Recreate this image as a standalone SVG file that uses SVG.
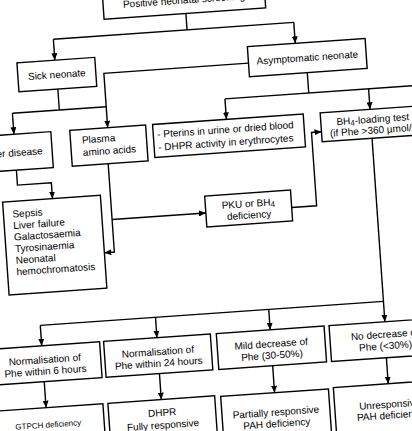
<svg xmlns="http://www.w3.org/2000/svg" width="412" height="431" viewBox="0 0 412 431">
<defs>
<marker id="ah" markerWidth="7" markerHeight="6" refX="7" refY="3" orient="auto" markerUnits="userSpaceOnUse">
<path d="M0,0 L7,3 L0,6 Z" fill="#000"/>
</marker>
<style>
.b{fill:#fff;stroke:#000;stroke-width:1.4}
.c{fill:none;stroke:#000;stroke-width:1.4}
.a{marker-end:url(#ah)}
text{font-family:"Liberation Sans",Arial,sans-serif;font-size:10px;fill:#000}
.m{text-anchor:middle}
.s{font-size:8px}
</style>
</defs>
<rect width="412" height="431" fill="#fff"/>
<g transform="rotate(-4 206 215)">
<g id="connectors">
<path class="c" d="M200,12.5 V29 M66,29 H307"/>
<path class="c a" d="M66,29 V50"/>
<path class="c a" d="M307,29 V50"/>
<path class="c" d="M67,79 V100 M20,100 H114"/>
<path class="c a" d="M20,100 V121"/>
<path class="c a" d="M259,66.5 H114 V121"/>
<path class="c" d="M317,80 V100.5 M233,100.5 H440"/>
<path class="c a" d="M233,100.5 V121"/>
<path class="c a" d="M377,100.5 V121"/>
<path class="c a" d="M20,157 V172 H54 V188"/>
<path class="c a" d="M112,157 V245.5 H102"/>
<path class="c a" d="M112,213 H206"/>
<path class="c a" d="M292,213.5 H317 V140 H327"/>
<path class="c a" d="M377,150 V334"/>
<path class="c" d="M33,313.5 H377"/>
<path class="c a" d="M33,313.5 V334"/>
<path class="c a" d="M148.5,313.5 V334"/>
<path class="c a" d="M262,313.5 V334"/>
<path class="c a" d="M33,370 V396"/>
<path class="c a" d="M148.5,370 V396"/>
<path class="c a" d="M262,370 V397"/>
<path class="c a" d="M376,370 V396"/>
</g>
<g id="n-positive"><rect class="b" x="118" y="-40" width="162" height="52.5"/><text class="m" x="199" y="2.5">Positive neonatal screening</text></g>
<g id="n-sick"><rect class="b" x="28" y="50" width="78" height="29"/><text class="m" x="67" y="68">Sick neonate</text></g>
<g id="n-asym"><rect class="b" x="259" y="50" width="118" height="30"/><text class="m" x="318" y="68.5">Asymptomatic neonate</text></g>
<g id="n-liver"><rect class="b" x="-25" y="121" width="82" height="36"/><text class="m" x="18" y="143">Liver disease</text></g>
<g id="n-plasma"><rect class="b" x="76" y="121" width="76" height="36"/><text x="87.5" y="135">Plasma</text><text x="87.5" y="147.5">amino acids</text></g>
<g id="n-pterins"><rect class="b" x="159" y="121" width="151" height="33"/><text x="163" y="134.5">- Pterins in urine or dried blood</text><text x="163" y="147.5">- DHPR activity in erythrocytes</text></g>
<g id="n-bh4test"><rect class="b" x="327" y="121" width="104" height="29"/><text class="m" x="379" y="134.5">BH<tspan class="s" dy="1.5">4</tspan><tspan dy="-1.5">-loading test</tspan></text><text class="m" x="379" y="145.5">(if Phe &gt;360 µmol/l)</text></g>
<g id="n-sepsis"><rect class="b" x="4" y="188" width="98" height="93"/>
<text x="13" y="204">Sepsis</text><text x="13" y="215.6">Liver failure</text><text x="13" y="227.2">Galactosaemia</text><text x="13" y="238.8">Tyrosinaemia</text><text x="13" y="250.4">Neonatal</text><text x="13" y="262">hemochromatosis</text></g>
<g id="n-pku"><rect class="b" x="206" y="196" width="86" height="31"/><text class="m" x="249" y="210">PKU or BH<tspan class="s" dy="1.5">4</tspan></text><text class="m" x="249" y="221.5">deficiency</text></g>
<g id="n-norm6"><rect class="b" x="-21" y="334" width="112" height="36"/><text class="m" x="35" y="351.5">Normalisation of</text><text class="m" x="35" y="363">Phe within 6 hours</text></g>
<g id="n-norm24"><rect class="b" x="95" y="334" width="107" height="36"/><text class="m" x="148.5" y="351.5">Normalisation of</text><text class="m" x="148.5" y="363">Phe within 24 hours</text></g>
<g id="n-mild"><rect class="b" x="208" y="334" width="108" height="36"/><text class="m" x="262" y="351.5">Mild decrease of</text><text class="m" x="262" y="363">Phe (30-50%)</text></g>
<g id="n-nodec"><rect class="b" x="321" y="334" width="110" height="36"/><text class="m" x="376" y="350">No decrease of</text><text class="m" x="376" y="361.5">Phe (&lt;30%)</text></g>
<g id="n-gtpch"><rect class="b" x="-21" y="396" width="111" height="60"/><text class="m s" x="34" y="416">GTPCH deficiency</text></g>
<g id="n-dhpr"><rect class="b" x="95" y="396" width="107" height="60"/><text class="m" x="148.5" y="412.5">DHPR</text><text class="m" x="148.5" y="425">Fully responsive</text></g>
<g id="n-partial"><rect class="b" x="208" y="397" width="108" height="60"/><text class="m" x="262" y="420">Partially responsive</text><text class="m" x="262" y="431.5">PAH deficiency</text></g>
<g id="n-unresp"><rect class="b" x="321" y="396" width="110" height="60"/><text class="m" x="376" y="420">Unresponsive</text><text class="m" x="376" y="431">PAH deficiency</text></g>
</g>
</svg>
